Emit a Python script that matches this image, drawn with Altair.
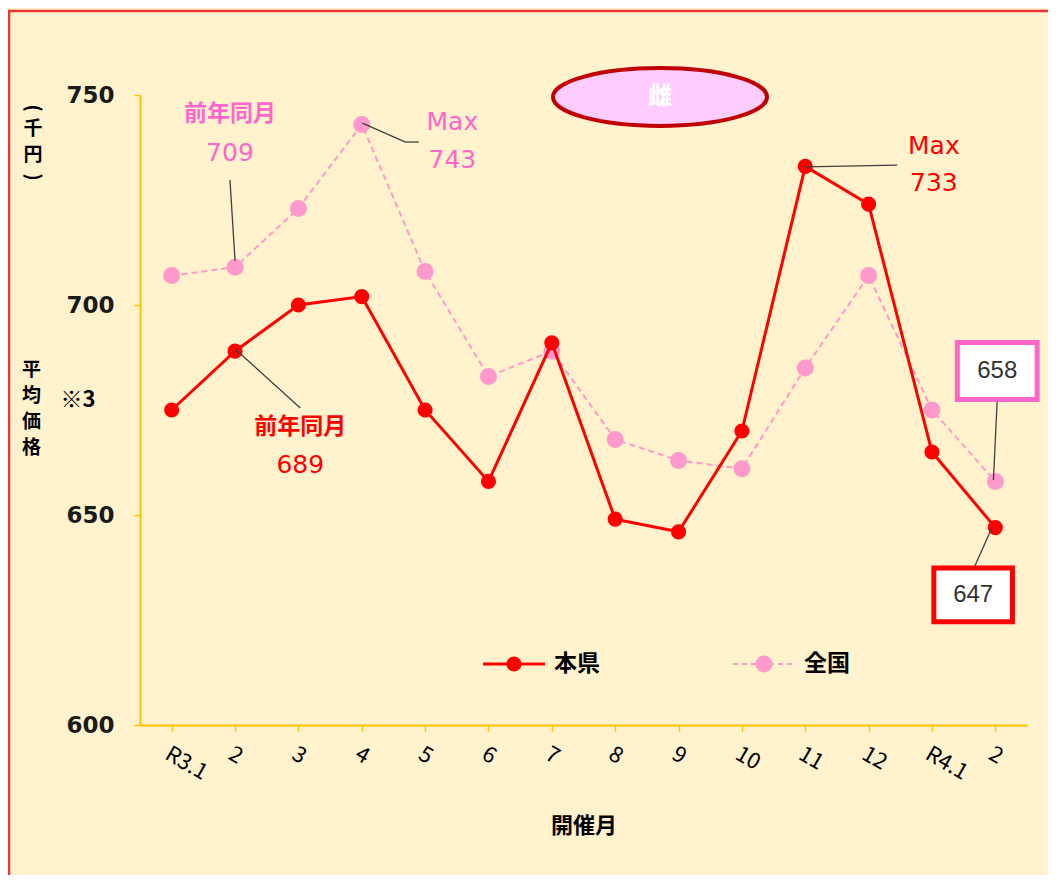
import json
import altair as alt
import pandas as pd

# ---- data ----
months = ["R3.1", "2", "3", "4", "5", "6", "7", "8", "9", "10", "11", "12", "R4.1", "2"]
ken = [675, 689, 700, 702, 675, 658, 691, 649, 646, 670, 733, 724, 665, 647]
zenkoku = [707, 709, 723, 743, 708, 683, 689, 668, 663, 661, 685, 707, 675, 658]
series_names = ["本県", "全国"]
title_text = "雌"

# annotation texts (anchored in data units)
jp_text = ["前年同月", "前年同月"]
jp_series = ["全国", "本県"]
jp_x = [0.92, 2.03]
jp_y = [745.4, 670.9]

num_text = ["709", "Max", "743", "Max", "733", "689"]
num_series = ["全国", "全国", "全国", "本県", "本県", "本県"]
num_x = [0.92, 4.43, 4.43, 12.03, 12.03, 2.03]
num_y = [736.2, 743.6, 734.5, 737.9, 729.0, 661.9]

# leader lines
seg_x = [0.92, 3.01, 3.69, 9.99, 1.0, 13.03, 12.67]
seg_y = [729.8, 743.3, 738.8, 732.9, 689.5, 677.4, 637.6]
seg_x2 = [1.0, 3.69, 3.9, 11.45, 2.03, 12.97, 12.95]
seg_y2 = [710.5, 738.8, 738.8, 733.3, 675.5, 658.3, 647.1]

# value boxes
box_text = ["658", "647"]
box_series = ["全国", "本県"]
box_cx = [13.03, 12.65]
box_cy = [684.3, 631.0]
box_hw = [0.63, 0.62]
box_hh = [6.8, 6.4]

RED = "#FF0000"
PINK_LINE = "#FF99CC"
PINK_TEXT = "#FF66CC"
AXIS = "#FFC000"
FONT = "Noto Sans CJK JP"
NUMFONT = "DejaVu Sans"

W, H = 887, 630

rows = []
for i, m in enumerate(months):
    rows.append({"idx": i, "value": ken[i], "series": "本県"})
    rows.append({"idx": i, "value": zenkoku[i], "series": "全国"})
df = pd.DataFrame(rows)

label_expr = json.dumps(months) + "[datum.value]"

x_enc = alt.X(
    "idx:Q",
    scale=alt.Scale(domain=[-0.5, len(months) - 0.5], nice=False, zero=False),
    axis=alt.Axis(
        values=list(range(len(months))), labelExpr=label_expr,
        labelAngle=30, labelAlign="left", labelBaseline="top",
        labelFontSize=22, labelColor="#000000", labelPadding=12, labelFont=FONT,
        domainColor=AXIS, domainWidth=2, tickColor=AXIS, tickWidth=1.5, tickSize=6,
        grid=False, title="開催月", titleFont=FONT, titleFontSize=22,
        titleFontWeight="bold", titleColor="#000000", titleY=100, titleBaseline="middle",
    ),
)
y_enc = alt.Y(
    "value:Q",
    scale=alt.Scale(domain=[600, 750], nice=False, zero=False),
    axis=alt.Axis(
        values=[600, 650, 700, 750], labelFontSize=23, labelFontWeight="bold",
        labelColor="#1a1a1a", labelPadding=20, labelFont=NUMFONT,
        domainColor=AXIS, domainWidth=2, tickColor=AXIS, tickWidth=1.5, tickSize=6,
        grid=False, title=["平", "均", "価", "格"], titleAngle=0, titleX=-109, titleY=265,
        titleAlign="center", titleBaseline="top", titleFont=FONT, titleFontSize=19,
        titleFontWeight="bold", titleColor="#000000", titleLineHeight=26,
    ),
)

base = alt.Chart(df).encode(x=x_enc, y=y_enc)

pink_line = base.transform_filter(alt.datum.series == "全国").mark_line(
    strokeWidth=2, strokeDash=[6, 4], color=PINK_LINE
)
pink_pts = base.transform_filter(alt.datum.series == "全国").mark_circle(
    size=290, opacity=1, color=PINK_LINE
)
red_line = base.transform_filter(alt.datum.series == "本県").mark_line(
    strokeWidth=3, color=RED
)
red_pts = base.transform_filter(alt.datum.series == "本県").mark_circle(
    size=230, opacity=1, color=RED
)

seg_df = pd.DataFrame({"x": seg_x, "y": seg_y, "x2": seg_x2, "y2": seg_y2})
segs = alt.Chart(seg_df).mark_rule(color="#404040", strokeWidth=1.3).encode(
    x=alt.X("x:Q"), y=alt.Y("y:Q"), x2="x2:Q", y2="y2:Q"
)

txt_color_scale = alt.Scale(domain=series_names, range=[RED, PINK_TEXT])
jp_df = pd.DataFrame({"x": jp_x, "y": jp_y, "t": jp_text, "s": jp_series})
ann_jp = alt.Chart(jp_df).mark_text(font=FONT, fontWeight="bold", fontSize=23).encode(
    x="x:Q", y="y:Q", text="t:N",
    color=alt.Color("s:N", scale=txt_color_scale, legend=None),
)
num_df = pd.DataFrame({"x": num_x, "y": num_y, "t": num_text, "s": num_series})
ann_num = alt.Chart(num_df).mark_text(font=NUMFONT, fontSize=25).encode(
    x="x:Q", y="y:Q", text="t:N",
    color=alt.Color("s:N", scale=txt_color_scale, legend=None),
)

box_df = pd.DataFrame({
    "x": [c - w for c, w in zip(box_cx, box_hw)], "x2": [c + w for c, w in zip(box_cx, box_hw)],
    "y": [c - h for c, h in zip(box_cy, box_hh)], "y2": [c + h for c, h in zip(box_cy, box_hh)],
    "cx": box_cx, "cy": box_cy, "t": box_text, "s": box_series,
})
boxes = alt.Chart(box_df).mark_rect(fill="white", strokeWidth=5).encode(
    x="x:Q", x2="x2:Q", y="y:Q", y2="y2:Q",
    stroke=alt.Stroke("s:N", scale=txt_color_scale, legend=None),
)
box_txt = alt.Chart(box_df).mark_text(font="Liberation Sans", fontSize=24, color="#333333").encode(
    x="cx:Q", y="cy:Q", text="t:N"
)

tdf = pd.DataFrame({"t": [title_text]})
ellipse = alt.Chart(tdf).mark_point(
    shape="M -1 0 A 1 0.27 0 1 0 1 0 A 1 0.27 0 1 0 -1 0 Z",
    size=214 * 214, filled=True, fill="#FFCCFF", stroke="#C00000", strokeWidth=4, opacity=1,
).encode(x=alt.value(520), y=alt.value(2))
ell_txt = alt.Chart(tdf).mark_text(font=FONT, fontWeight="bold", fontSize=24, color="white").encode(
    x=alt.value(520), y=alt.value(2), text="t:N"
)

# unit label "(千円)" written vertically
unit_chars = ["(", "千", "円", ")"]
unit_layers = []
for ch, yy, ang in zip(unit_chars, [13, 34, 60, 82], [90, 0, 0, 90]):
    udf = pd.DataFrame({"t": [ch]})
    unit_layers.append(alt.Chart(udf).mark_text(
        font=FONT, fontWeight="bold", fontSize=19, color="#000000", angle=ang
    ).encode(x=alt.value(-107), y=alt.value(yy), text="t:N"))

note_txt = alt.Chart(tdf).mark_text(font=FONT, fontWeight="bold", fontSize=22, color="#000000").encode(
    x=alt.value(-62), y=alt.value(305), text=alt.value("※3")
)

# hand-drawn legend (line + dot + label per series)
LEG_Y = 569
leg_layers = []
for name, col, x0, dash, sw, ds in [
    (series_names[0], RED, 343, [1, 0], 3, 230),
    (series_names[1], PINK_LINE, 593, [5, 4], 2, 290),
]:
    ldf = pd.DataFrame({"t": [name]})
    leg_layers.append(alt.Chart(ldf).mark_rule(color=col, strokeWidth=sw, strokeDash=dash).encode(
        x=alt.value(x0), x2=alt.value(x0 + 62), y=alt.value(LEG_Y)))
    leg_layers.append(alt.Chart(ldf).mark_circle(color=col, size=ds, opacity=1).encode(
        x=alt.value(x0 + 31), y=alt.value(LEG_Y)))
    leg_layers.append(alt.Chart(ldf).mark_text(font=FONT, fontWeight="bold", fontSize=23,
                                               color="#000000", align="left").encode(
        x=alt.value(x0 + 71), y=alt.value(LEG_Y), text="t:N"))

frame = alt.Chart(tdf).mark_rect(fill="transparent", stroke="#EE3333", strokeWidth=2.5).encode(
    x=alt.value(-131), x2=alt.value(W + 80), y=alt.value(-84), y2=alt.value(H + 250)
)

chart = alt.layer(
    frame, pink_line, pink_pts, red_line, red_pts, segs, ann_jp, ann_num, boxes, box_txt,
    ellipse, ell_txt, *unit_layers, note_txt, *leg_layers,
).properties(
    width=W, height=H,
    autosize=alt.AutoSizeParams(type="none"),
    padding={"left": 132, "top": 87, "right": 21, "bottom": 150},
    background="#FFF2CC",
).configure_view(stroke=None)

chart.save("out.html", embed_options={"renderer": "svg", "actions": False})
